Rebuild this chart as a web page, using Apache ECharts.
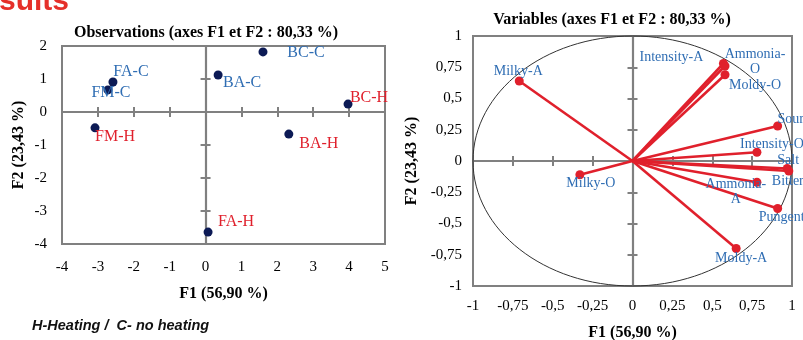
<!DOCTYPE html>
<html>
<head>
<meta charset="utf-8">
<script src="https://cdn.jsdelivr.net/npm/echarts@6/dist/echarts.min.js"></script>
<style>
html,body{margin:0;padding:0;background:#fff;}
#c{width:803px;height:340px;}
</style>
</head>
<body>
<div id="c"></div>
<script>
// ---- Observations (left chart) ----
var obsNames = ['FA-C', 'FM-C', 'BA-C', 'BC-C', 'FM-H', 'BC-H', 'BA-H', 'FA-H'];
var obsF1 = [-2.58, -2.72, 0.35, 1.60, -3.08, 3.97, 2.32, 0.07];
var obsF2 = [0.91, 0.67, 1.12, 1.82, -0.48, 0.24, -0.67, -3.64];
var obsXTicks = [-4, -3, -2, -1, 0, 1, 2, 3, 4, 5];
var obsYTicks = [-4, -3, -2, -1, 0, 1, 2];

// ---- Variables (right chart) ----
var varNames = ['Milky-A', 'Intensity-A', 'Ammonia-O', 'Moldy-O', 'Sour', 'Intensity-O', 'Salt', 'Bitter', 'Ammonia-A', 'Pungent', 'Moldy-A', 'Milky-O'];
var varF1 = [-0.71, 0.57, 0.58, 0.58, 0.91, 0.78, 0.97, 0.98, 0.78, 0.91, 0.65, -0.33];
var varF2 = [0.64, 0.78, 0.76, 0.69, 0.28, 0.07, -0.06, -0.08, -0.17, -0.38, -0.70, -0.11];
var varTicks = [-1, -0.75, -0.5, -0.25, 0, 0.25, 0.5, 0.75, 1];
var circleRadius = 1;

// ---- label layout (offset of label centre from its point, px) ----
var obsLabelOffsets = [[18, -10], [3, 3], [24, 8], [43, 1], [20, 9], [21, -6], [30, 10], [28, -10]];
var varLabelOffsets = [[-1, -10], [-52, -6], [30, -4], [30, 11], [13, -7], [15, -8], [1, -8], [-1, 10], [-21, 10], [4, 9], [5, 10], [11, 9]];

var SERIF = '"Liberation Serif", "Times New Roman", serif';
var GRAY = '#808080';
var BLUE = '#2f6db3';
var RED = '#e0202c';

function fmtComma(v) { return String(v).replace('.', ','); }

function axisSet(gridIndex, dim, min, max, interval, opts) {
  var edgePos = dim === 'x' ? 'bottom' : 'left';
  var edge = {
    gridIndex: gridIndex, type: 'value', min: min, max: max, interval: interval,
    position: edgePos,
    axisLine: { show: false, onZero: false },
    axisTick: { show: false },
    splitLine: { show: false },
    axisLabel: {
      show: true, color: '#000', fontFamily: SERIF, fontSize: 15,
      margin: opts.margin, formatter: opts.formatter
    },
    name: opts.name, nameLocation: 'middle', nameGap: opts.nameGap,
    nameTextStyle: { fontFamily: SERIF, fontSize: 16, fontWeight: 'bold', color: '#000' }
  };
  var zeroIn = {
    gridIndex: gridIndex, type: 'value', min: min, max: max, interval: interval,
    position: edgePos,
    axisLine: { show: true, onZero: true, lineStyle: { color: GRAY, width: 2.2 } },
    axisTick: { show: true, inside: true, length: 5, lineStyle: { color: GRAY, width: 2 } },
    splitLine: { show: false },
    axisLabel: { show: false }
  };
  var zeroOut = {
    gridIndex: gridIndex, type: 'value', min: min, max: max, interval: interval,
    position: edgePos,
    axisLine: { show: false, onZero: true },
    axisTick: { show: true, inside: false, length: 5, lineStyle: { color: GRAY, width: 2 } },
    splitLine: { show: false },
    axisLabel: { show: false }
  };
  return [edge, zeroIn, zeroOut];
}

var xAxes = [].concat(
  axisSet(0, 'x', obsXTicks[0], obsXTicks[obsXTicks.length - 1], 1, { margin: 16, name: 'F1 (56,90 %)', nameGap: 42 }),
  axisSet(1, 'x', varTicks[0], varTicks[varTicks.length - 1], 0.25, { margin: 13, formatter: fmtComma, name: 'F1 (56,90 %)', nameGap: 39 })
);
var yAxes = [].concat(
  axisSet(0, 'y', obsYTicks[0], obsYTicks[obsYTicks.length - 1], 1, { margin: 15, name: 'F2 (23,43 %)', nameGap: 35 }),
  axisSet(1, 'y', varTicks[0], varTicks[varTicks.length - 1], 0.25, { margin: 11, formatter: fmtComma, name: 'F2 (23,43 %)', nameGap: 53 })
);

var obsData = obsNames.map(function (n, i) {
  var isHeat = /-H$/.test(n);
  return {
    name: n, value: [obsF1[i], obsF2[i]],
    label: { offset: obsLabelOffsets[i], color: isHeat ? RED : BLUE }
  };
});
var varData = varNames.map(function (n, i) {
  return { name: n, value: [varF1[i], varF2[i]], label: { offset: varLabelOffsets[i] } };
});

var option = {
  animation: false,
  backgroundColor: '#fff',
  grid: [
    { left: 62, top: 46, width: 323, height: 198, show: true, borderColor: GRAY, borderWidth: 2, backgroundColor: 'transparent', containLabel: false, outerBoundsMode: 'none' },
    { left: 473, top: 36, width: 319, height: 250, show: true, borderColor: GRAY, borderWidth: 2, backgroundColor: 'transparent', containLabel: false, outerBoundsMode: 'none' }
  ],
  xAxis: xAxes,
  yAxis: yAxes,
  graphic: [
    { type: 'text', x: -1, y: 17, style: { text: 'sults', font: 'bold 30px "Liberation Sans", Arial, sans-serif', fill: '#e5302a', align: 'left', verticalAlign: 'bottom' } },
    { type: 'text', x: 206, y: 33, style: { text: 'Observations (axes F1 et F2 : 80,33 %)', font: 'bold 16px ' + SERIF, fill: '#000', align: 'center', verticalAlign: 'middle' } },
    { type: 'text', x: 612, y: 20, style: { text: 'Variables (axes F1 et F2 : 80,33 %)', font: 'bold 16px ' + SERIF, fill: '#000', align: 'center', verticalAlign: 'middle' } },
    { type: 'text', x: 32, y: 326, style: { text: 'H-Heating /  C- no heating', font: 'italic bold 14.5px "Liberation Sans", Arial, sans-serif', fill: '#111', align: 'left', verticalAlign: 'middle' } }
  ],
  series: [
    {
      type: 'scatter', xAxisIndex: 0, yAxisIndex: 0,
      symbol: 'circle', symbolSize: 9,
      itemStyle: { color: '#0c1a55', opacity: 1 },
      label: {
        show: true, position: 'inside', formatter: '{b}',
        fontFamily: SERIF, fontSize: 16, align: 'center', verticalAlign: 'middle'
      },
      data: obsData, z: 5
    },
    {
      type: 'custom', xAxisIndex: 3, yAxisIndex: 3,
      data: [[0, 0]],
      renderItem: function (params, api) {
        var c = api.coord([0, 0]);
        var rx = api.coord([circleRadius, 0]);
        var ry = api.coord([0, circleRadius]);
        return {
          type: 'ellipse',
          shape: { cx: c[0], cy: c[1], rx: rx[0] - c[0], ry: c[1] - ry[1] },
          style: { fill: 'none', stroke: '#333', lineWidth: 1 }
        };
      },
      silent: true, z: 2
    },
    {
      type: 'custom', xAxisIndex: 3, yAxisIndex: 3,
      data: varNames.map(function (n, i) { return [varF1[i], varF2[i]]; }),
      renderItem: function (params, api) {
        var o = api.coord([0, 0]);
        var p = api.coord([api.value(0), api.value(1)]);
        return {
          type: 'line',
          shape: { x1: o[0], y1: o[1], x2: p[0], y2: p[1] },
          style: { stroke: RED, lineWidth: 2.6 }
        };
      },
      silent: true, z: 3
    },
    {
      type: 'scatter', xAxisIndex: 3, yAxisIndex: 3,
      symbol: 'circle', symbolSize: 9,
      itemStyle: { color: RED, opacity: 1 },
      label: {
        show: true, position: 'inside',
        formatter: function (p) { return p.name.replace(/^Ammonia-/, 'Ammonia-\n'); },
        fontFamily: SERIF, fontSize: 14, color: BLUE, lineHeight: 15,
        align: 'center', verticalAlign: 'middle'
      },
      data: varData, z: 5
    }
  ]
};

var chart = echarts.init(document.getElementById('c'), null, { renderer: 'canvas' });
chart.setOption(option);
</script>
</body>
</html>
